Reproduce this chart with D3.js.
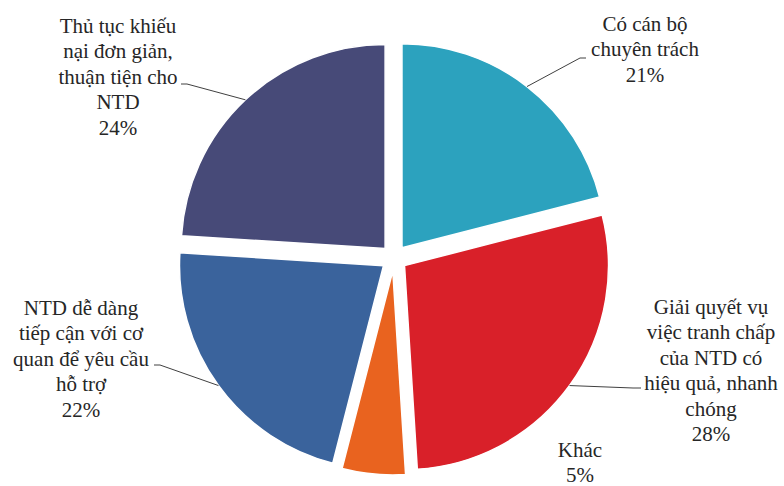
<!DOCTYPE html>
<html>
<head>
<meta charset="utf-8">
<script src="https://cdn.jsdelivr.net/npm/d3@7/dist/d3.min.js"></script>
<style>
  html, body { margin: 0; padding: 0; background: #ffffff; }
  svg { display: block; }
  .lbl { font-family: "Times New Roman", "Liberation Serif", "DejaVu Serif", serif; }
</style>
</head>
<body>
<svg id="chart" width="784" height="486"></svg>
<script>
// Survey shares, clockwise from 12 o'clock
const categories = [
  "Có cán bộ chuyên trách",
  "Giải quyết vụ việc tranh chấp của NTD có hiệu quả, nhanh chóng",
  "Khác",
  "NTD dễ dàng tiếp cận với cơ quan để yêu cầu hỗ trợ",
  "Thủ tục khiếu nại đơn giản, thuận tiện cho NTD"
];
const values = [21, 28, 5, 22, 24];
const labelLines = [
  ["Có cán bộ", "chuyên trách"],
  ["Giải quyết vụ", "việc tranh chấp", "của NTD có", "hiệu quả, nhanh", "chóng"],
  ["Khác"],
  ["NTD dễ dàng", "tiếp cận với cơ", "quan để yêu cầu", "hỗ trợ"],
  ["Thủ tục khiếu", "nại đơn giản,", "thuận tiện cho", "NTD"]
];
const colors = ["#2ca2be", "#d92029", "#e9631f", "#3a639c", "#474a78"];

// Layout of the pie and its labels
const cx = 394, cy = 258, radius = 204, explode = 13;
const fontSize = 21, lineHeight = 25.4;
const labelLayout = [
  { x: 645, y: 31,  leader: [[586, 58], [580, 58]] },
  { x: 711, y: 314, leader: [[641, 388], [633, 388]] },
  { x: 580, y: 457, leader: null },
  { x: 81,  y: 315, leader: [[154, 365], [160, 365]] },
  { x: 118, y: 33,  leader: [[181, 84], [187, 84]] }
];

const svg = d3.select("#chart");

const pie = d3.pie().sort(null).value(d => d).startAngle(0).endAngle(2 * Math.PI);
const arcs = pie(values);
const arc = d3.arc().innerRadius(0).outerRadius(radius);

// Offset of each exploded slice along its bisector
function sliceOffset(d) {
  const a = (d.startAngle + d.endAngle) / 2;
  return [cx + explode * Math.sin(a), cy - explode * Math.cos(a)];
}

const slices = svg.append("g").attr("class", "slices");
slices.selectAll("path")
  .data(arcs)
  .join("path")
  .attr("d", arc)
  .attr("transform", d => { const o = sliceOffset(d); return `translate(${o[0]},${o[1]})`; })
  .attr("fill", (d, i) => colors[i])
  .attr("stroke", "#ffffff")
  .attr("stroke-width", 1.5);

// Leader lines from label to the outer edge of the slice
const lineGen = d3.line();
const leaders = svg.append("g").attr("class", "leaders");
arcs.forEach((d, i) => {
  const lay = labelLayout[i];
  if (!lay.leader) return;
  const o = sliceOffset(d);
  const a = (d.startAngle + d.endAngle) / 2;
  const edge = [o[0] + radius * Math.sin(a), o[1] - radius * Math.cos(a)];
  leaders.append("path")
    .attr("d", lineGen([...lay.leader, edge]))
    .attr("fill", "none")
    .attr("stroke", "#404040")
    .attr("stroke-width", 1);
});

// Category and percentage labels
const labels = svg.append("g").attr("class", "labels");
arcs.forEach((d, i) => {
  const lay = labelLayout[i];
  const lines = [...labelLines[i], d3.format("d")(values[i]) + "%"];
  const t = labels.append("text")
    .attr("class", "lbl")
    .attr("text-anchor", "middle")
    .attr("font-size", fontSize)
    .attr("fill", "#262626");
  lines.forEach((ln, k) => {
    t.append("tspan")
      .attr("x", lay.x)
      .attr("y", lay.y + k * lineHeight)
      .text(ln);
  });
});
</script>
</body>
</html>
